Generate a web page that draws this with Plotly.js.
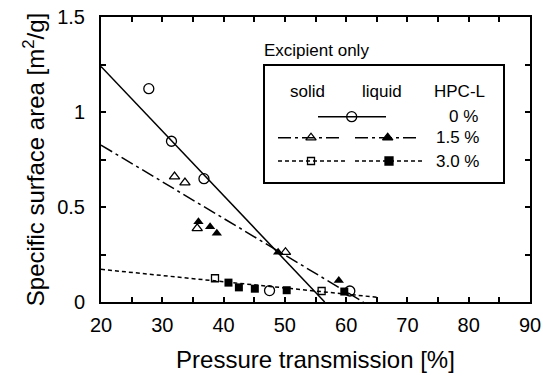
<!DOCTYPE html>
<html>
<head>
<meta charset="utf-8">
<script src="https://cdn.plot.ly/plotly-3.0.1.min.js"></script>
<style>
html,body{margin:0;padding:0;background:#fff;}
#chart{width:543px;height:376px;}
</style>
</head>
<body>
<div id="chart"></div>
<script>
// ---- data ----
var hpc0_x = [27.8, 31.5, 36.8, 47.5, 60.6];
var hpc0_y = [1.123, 0.846, 0.649, 0.060, 0.058];
var hpc0_fit_x = [20, 56.5];
var hpc0_fit_y = [1.24, 0];

var hpc15_solid_x = [32.0, 33.7, 35.7, 50.1];
var hpc15_solid_y = [0.660, 0.628, 0.388, 0.262];
var hpc15_liquid_x = [35.9, 37.8, 38.9, 48.9, 58.8];
var hpc15_liquid_y = [0.423, 0.396, 0.362, 0.262, 0.113];
var hpc15_fit_x = [20, 62.8];
var hpc15_fit_y = [0.826, 0];

var hpc30_solid_x = [38.6, 56.0];
var hpc30_solid_y = [0.125, 0.058];
var hpc30_liquid_x = [40.8, 42.5, 45.1, 50.3, 59.7];
var hpc30_liquid_y = [0.102, 0.077, 0.070, 0.062, 0.055];
var hpc30_fit_x = [20, 65];
var hpc30_fit_y = [0.172, 0.025];

var legendHeaders = ["solid", "liquid", "HPC-L"];
var legendLabels = ["0 %", "1.5 %", "3.0 %"];
var legendNote = "Excipient only";

// ---- styles ----
var FONT = "Liberation Sans, Arial, Helvetica, sans-serif";
var DASH15 = "13px,4px,3px,4px";
var DASH30 = "4px,3px";

// plot area in pixels (for legend placement on overlay axis)
var L = 101, R = 530, T = 17, B = 302;
function u(px){ return (px - L) / (R - L); }
function v(py){ return (B - py) / (B - T); }

var traces = [
  {x: hpc0_fit_x, y: hpc0_fit_y, mode: 'lines', line: {color: '#000', width: 1.5}},
  {x: hpc15_fit_x, y: hpc15_fit_y, mode: 'lines', line: {color: '#000', width: 1.5, dash: DASH15}},
  {x: hpc30_fit_x, y: hpc30_fit_y, mode: 'lines', line: {color: '#000', width: 1.5, dash: DASH30}},
  {x: hpc0_x, y: hpc0_y, mode: 'markers',
   marker: {symbol: 'circle-open', size: 10, color: '#000', line: {width: 1.3}}},
  {x: hpc15_solid_x, y: hpc15_solid_y, mode: 'markers',
   marker: {symbol: 'triangle-up-open', size: 9, color: '#000', line: {width: 1.3}}},
  {x: hpc15_liquid_x, y: hpc15_liquid_y, mode: 'markers',
   marker: {symbol: 'triangle-up', size: 9, color: '#000'}},
  {x: hpc30_solid_x, y: hpc30_solid_y, mode: 'markers',
   marker: {symbol: 'square-open', size: 7, color: '#000', line: {width: 1.3}}},
  {x: hpc30_liquid_x, y: hpc30_liquid_y, mode: 'markers',
   marker: {symbol: 'square', size: 8, color: '#000'}}
];

// legend samples drawn on an overlay axis [0,1] x [0,1]
var rowY = [116.7, 137.7, 161];
var legendSamples = [
  {x: [u(318), u(351.7), u(386)], y: [v(rowY[0]), v(rowY[0]), v(rowY[0])],
   line: {color: '#000', width: 1.5}, sym: 'circle-open', size: 10},
  {x: [u(278), u(311), u(343)], y: [v(rowY[1]), v(rowY[1]), v(rowY[1])],
   line: {color: '#000', width: 1.5, dash: DASH15}, sym: 'triangle-up-open', size: 9},
  {x: [u(355), u(387.7), u(418)], y: [v(rowY[1]), v(rowY[1]), v(rowY[1])],
   line: {color: '#000', width: 1.5, dash: DASH15}, sym: 'triangle-up', size: 9},
  {x: [u(278), u(311), u(345)], y: [v(rowY[2]), v(rowY[2]), v(rowY[2])],
   line: {color: '#000', width: 1.5, dash: DASH30}, sym: 'square-open', size: 7},
  {x: [u(355), u(389), u(425)], y: [v(rowY[2]), v(rowY[2]), v(rowY[2])],
   line: {color: '#000', width: 1.5, dash: DASH30}, sym: 'square', size: 8}
];
legendSamples.forEach(function(s){
  traces.push({x: s.x, y: s.y, xaxis: 'x2', yaxis: 'y2', mode: 'lines+markers',
    line: s.line,
    marker: {symbol: ['circle', s.sym, 'circle'], size: [0, s.size, 0], color: '#000',
             line: {width: 1.3, color: '#000'}, opacity: 1}});
});
traces.forEach(function(t){ t.showlegend = false; t.hoverinfo = 'skip'; });

var annotations = [
  {text: legendNote, x: u(262), y: v(50), xanchor: 'left', yanchor: 'middle'},
  {text: legendHeaders[0], x: u(307), y: v(91), xanchor: 'center', yanchor: 'middle'},
  {text: legendHeaders[1], x: u(381.7), y: v(91), xanchor: 'center', yanchor: 'middle'},
  {text: legendHeaders[2], x: u(459), y: v(91), xanchor: 'center', yanchor: 'middle'},
  {text: legendLabels[0], x: u(480), y: v(rowY[0]), xanchor: 'right', yanchor: 'middle'},
  {text: legendLabels[1], x: u(481), y: v(rowY[1]), xanchor: 'right', yanchor: 'middle'},
  {text: legendLabels[2], x: u(481), y: v(rowY[2]), xanchor: 'right', yanchor: 'middle'}
].map(function(a){
  a.xref = 'paper'; a.yref = 'paper'; a.showarrow = false;
  a.font = {family: FONT, size: 17, color: '#000'};
  return a;
});

var axisCommon = {
  showline: true, linecolor: '#000', linewidth: 2, mirror: 'ticks',
  ticks: 'inside', ticklen: 5, tickwidth: 2, tickcolor: '#000',
  showgrid: false, zeroline: false,
  tickfont: {family: FONT, size: 20, color: '#000'}
};

var layout = {
  width: 543, height: 376,
  margin: {l: L, r: 543 - R, t: T, b: 376 - B, pad: 0},
  paper_bgcolor: '#fff', plot_bgcolor: '#fff',
  xaxis: Object.assign({}, axisCommon, {
    range: [20, 90], tick0: 20, dtick: 10, ticklabelstandoff: 4,
    minor: {dtick: 5, ticks: 'inside', ticklen: 5, tickwidth: 2, tickcolor: '#000'},
    title: {text: 'Pressure transmission [%]', standoff: 16,
            font: {family: FONT, size: 24, color: '#000'}}
  }),
  yaxis: Object.assign({}, axisCommon, {
    range: [0, 1.5], tick0: 0, dtick: 0.5, ticklabelstandoff: 10,
    minor: {dtick: 0.25, ticks: 'inside', ticklen: 5, tickwidth: 2, tickcolor: '#000'},
    title: {text: 'Specific surface area [m<sup>2</sup>/g]', standoff: 6,
            font: {family: FONT, size: 24, color: '#000'}}
  }),
  xaxis2: {overlaying: 'x', range: [0, 1], visible: false, fixedrange: true},
  yaxis2: {overlaying: 'y', range: [0, 1], visible: false, fixedrange: true},
  shapes: [
    {type: 'rect', xref: 'paper', yref: 'paper', layer: 'below',
     x0: u(264), x1: u(504), y0: v(183), y1: v(65),
     line: {color: '#000', width: 2}, fillcolor: '#fff'}
  ],
  annotations: annotations,
  showlegend: false
};

Plotly.newPlot('chart', traces, layout, {staticPlot: true, displayModeBar: false});
</script>
</body>
</html>
